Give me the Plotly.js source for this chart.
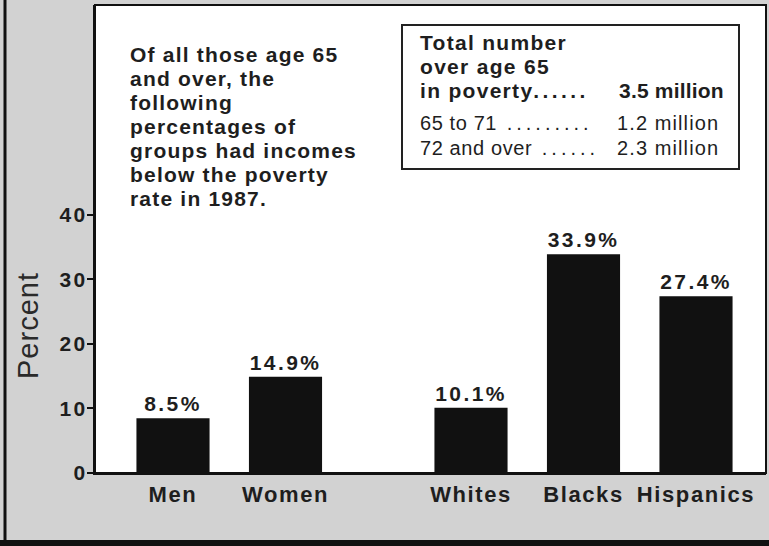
<!DOCTYPE html>
<html><head><meta charset="utf-8">
<script src="https://cdn.plot.ly/plotly-3.0.1.min.js"></script>
<style>
html,body{margin:0;padding:0;background:#d2d2d2;}
.ytick text{letter-spacing:2.5px;}
.xtick text, .x2tick text{letter-spacing:1.6px;}
text.bartext{letter-spacing:2.4px;}
</style></head><body><div id="chart" style="width:769px;height:546px;"></div>
<script>
// ---- data ----
const sexCategories = ['Men', 'Women'];
const sexPercents = [8.5, 14.9];
const raceCategories = ['Whites', 'Blacks', 'Hispanics'];
const racePercents = [10.1, 33.9, 27.4];
const yTickValues = [0, 10, 20, 30, 40];
const yAxisLabel = 'Percent';
const noteLines = ['Of all those age 65', 'and over, the', 'following', 'percentages of',
  'groups had incomes', 'below the poverty', 'rate in 1987.'];
const totalLabelLines = ['Total number', 'over age 65', 'in poverty......'];
const totalValue = '3.5 million';
const ageGroupLabels = ['65 to 71 .........', '72 and over ......'];
const ageGroupValues = ['1.2 million', '2.3 million'];

// ---- layout helpers ----
const W = 769, H = 546;
const M = {l: 95, r: 3, t: 5, b: 73};
const PW = W - M.l - M.r, PH = H - M.t - M.b;
const px = p => (p - M.l) / PW;
const py = p => (H - M.b - p) / PH;
const unitPx = 112.5;
const half = PW / 2;
const r1s = -(173 - M.l) / unitPx;
const r2s = -(471 - (M.l + half)) / unitPx;

const FONT = 'Liberation Sans, Arial, Helvetica, sans-serif';
const INK = '#1e1e1e';
const ls = (t, s) => '<span style="letter-spacing:' + s + 'px">' + t + '</span>';
// leader dots are set with wider spacing, as in the printed original
const styled = (t, s, dotS) => {
  const m = t.match(/^(.*?)(\s*\.+)$/);
  return m ? ls(m[1], s) + ls(m[2], dotS) : ls(t, s);
};

const barCommon = {
  type: 'bar', width: 0.65, marker: {color: '#111', line: {width: 0}},
  texttemplate: '%{y:.1f}%', textposition: 'outside', cliponaxis: false,
  textfont: {family: FONT, size: 21, weight: 'bold', color: INK},
  hoverinfo: 'skip', showlegend: false
};
const traces = [
  Object.assign({}, barCommon, {x: sexCategories, y: sexPercents, xaxis: 'x', yaxis: 'y'}),
  Object.assign({}, barCommon, {x: raceCategories, y: racePercents, xaxis: 'x2', yaxis: 'y'})
];

const xCommon = {
  type: 'category', showgrid: false, zeroline: false, showline: true,
  linecolor: '#111', linewidth: 2, ticks: 'outside', ticklen: 1, tickcolor: 'rgba(0,0,0,0)',
  tickfont: {family: FONT, size: 22, weight: 'bold', color: INK}, fixedrange: true
};

// one annotation per text line: anchored at its top so that baselines land on a fixed pitch
function lineNote(text, xPix, baseline, size, bold, anchor, spacing, dotSpacing) {
  return {xref: 'paper', yref: 'paper', x: px(xPix), y: py(baseline - size * 1.02),
    xanchor: anchor, yanchor: 'top', align: anchor, showarrow: false,
    text: styled(text, spacing, dotSpacing === undefined ? spacing : dotSpacing),
    font: {family: FONT, size: size, weight: bold ? 'bold' : 'normal', color: INK}};
}

const annotations = [];
noteLines.forEach((t, i) => annotations.push(lineNote(t, 128, 62 + 24.1 * i, 21, true, 'left', 1.2)));
totalLabelLines.forEach((t, i) => annotations.push(lineNote(t, 418, 50 + 24.2 * i, 21, true, 'left', 1.3, 3.4)));
annotations.push(lineNote(totalValue, 726, 50 + 24.2 * 2, 21, true, 'right', 0.2));
ageGroupLabels.forEach((t, i) => annotations.push(lineNote(t, 418, 130 + 25 * i, 20, false, 'left', 0.6, 4)));
ageGroupValues.forEach((t, i) => annotations.push(lineNote(t, 721, 130 + 25 * i, 20, false, 'right', 1.1)));
annotations.push({xref: 'paper', yref: 'paper', x: px(28), y: py(326), xanchor: 'center', yanchor: 'middle',
  textangle: -90, showarrow: false, text: ls(yAxisLabel, 1),
  font: {family: FONT, size: 29, color: '#2a2a2a'}});

const shapes = [
  {type: 'rect', xref: 'paper', yref: 'paper', x0: 0, x1: 1, y0: 0, y1: 1,
   fillcolor: '#ffffff', line: {width: 0}, layer: 'below'},
  {type: 'rect', xref: 'paper', yref: 'paper', x0: 0, x1: 1, y0: 0, y1: 1,
   line: {color: '#111', width: 2}, layer: 'above'},
  {type: 'rect', xref: 'paper', yref: 'paper', x0: px(402), x1: px(739), y0: py(169), y1: py(25),
   line: {color: '#222', width: 2}},
  {type: 'line', xref: 'paper', yref: 'paper', x0: px(5), x1: px(5), y0: py(0), y1: py(546),
   line: {color: '#111', width: 3}},
  {type: 'line', xref: 'paper', yref: 'paper', x0: px(0), x1: px(769), y0: py(543), y1: py(543),
   line: {color: '#111', width: 6}}
];

const layout = {
  width: W, height: H, margin: M,
  paper_bgcolor: '#d2d2d2', plot_bgcolor: 'rgba(0,0,0,0)',
  showlegend: false,
  xaxis: Object.assign({}, xCommon, {domain: [0, 0.5], range: [r1s, r1s + half / unitPx], anchor: 'y'}),
  xaxis2: Object.assign({}, xCommon, {domain: [0.5, 1], range: [r2s, r2s + half / unitPx], anchor: 'y'}),
  yaxis: {range: [0, 72.5], tickvals: yTickValues, ticks: 'outside', ticklen: 6, tickwidth: 2,
    tickcolor: '#111', showline: true, linecolor: '#111', linewidth: 2, showgrid: false,
    zeroline: false, fixedrange: true, ticklabelstandoff: -5,
    tickfont: {family: FONT, size: 21, weight: 'bold', color: INK}},
  annotations: annotations,
  shapes: shapes
};

Plotly.newPlot('chart', traces, layout, {staticPlot: true, displayModeBar: false});
</script></body></html>
